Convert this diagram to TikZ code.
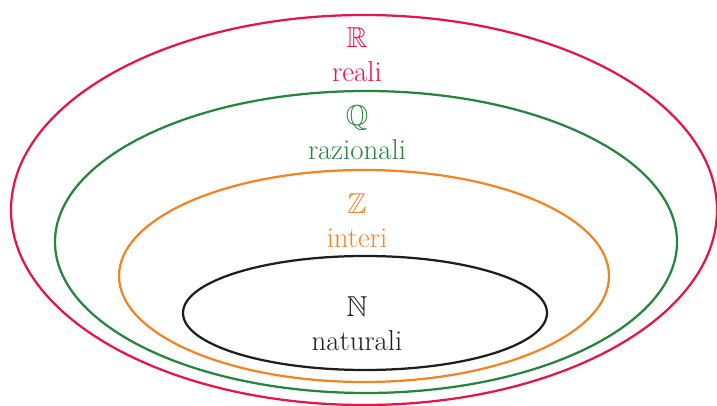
\documentclass[tikz,border=0pt]{standalone}
\usepackage{amsmath,amssymb}

\definecolor{reali}{RGB}{228,22,72}
\definecolor{razionali}{RGB}{38,132,62}
\definecolor{interi}{RGB}{242,132,40}
\definecolor{naturali}{RGB}{30,30,30}

\tikzset{insieme/.style={line width=1.6pt}, etichetta/.style={align=center,font=\fontsize{20.5}{24}\selectfont,inner sep=0pt}}

\begin{document}
\begin{tikzpicture}[x=0.025cm,y=-0.025cm]
\useasboundingbox (0,0) rectangle (717,406);
\draw[insieme,reali] (364,210) ellipse (353 and 195);
\draw[insieme,razionali] (366,242) ellipse (311 and 151);
\draw[insieme,interi] (364,276) ellipse (245 and 106);
\draw[insieme,naturali] (365,313) ellipse (182 and 57);
%
\node[etichetta,text=reali] (R) at (357,55) {$\mathbb{R}$\\reali};
\node[etichetta,text=razionali] (Q) at (357,133) {$\mathbb{Q}$\\razionali};
\node[etichetta,text=interi] (Z) at (357,221) {$\mathbb{Z}$\\interi};
\node[etichetta,text=naturali] (N) at (357,324) {$\mathbb{N}$\\naturali};
\end{tikzpicture}
\end{document}
